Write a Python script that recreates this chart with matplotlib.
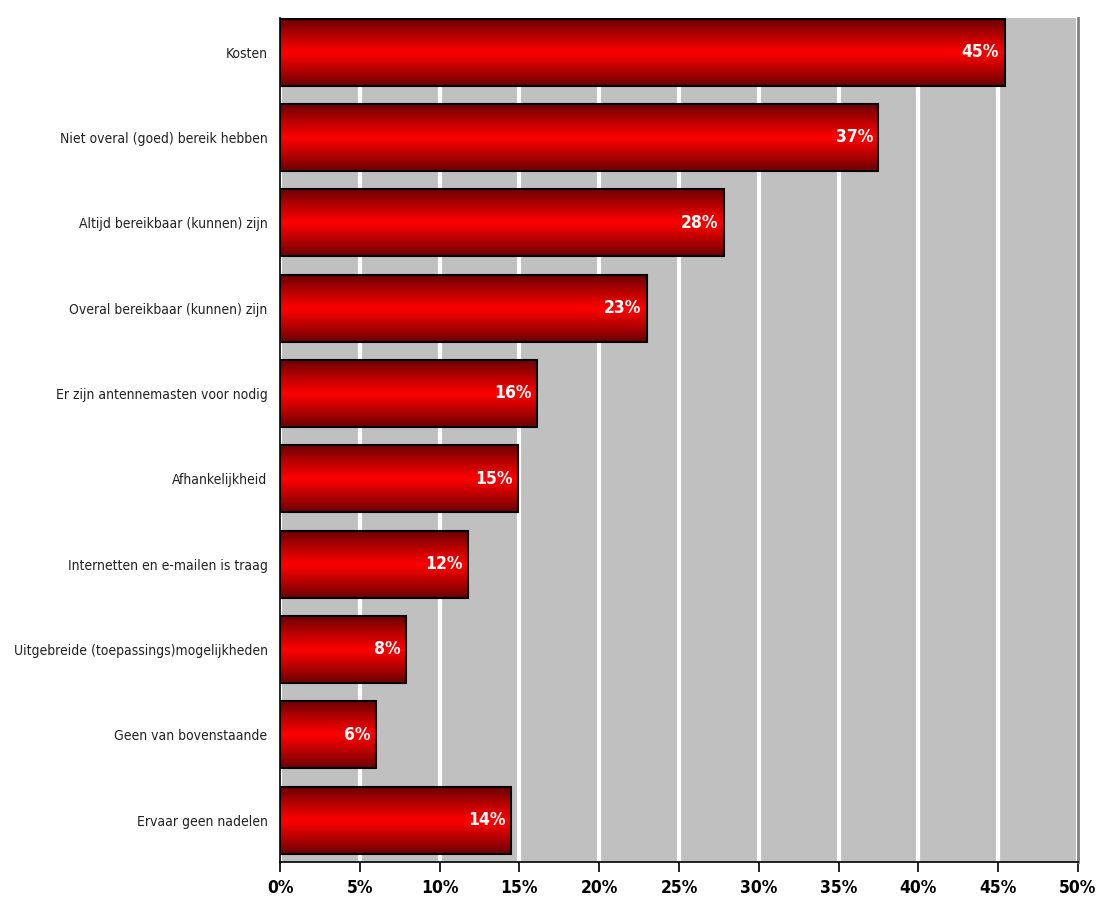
import numpy as np
import matplotlib.pyplot as plt
from matplotlib.colors import LinearSegmentedColormap
from matplotlib.ticker import MultipleLocator, FuncFormatter

plt.rcParams['font.family'] = ['DejaVu Sans']
plt.rcParams['font.stretch'] = 'condensed'

categories = [
    'Kosten',
    'Niet overal (goed) bereik hebben',
    'Altijd bereikbaar (kunnen) zijn',
    'Overal bereikbaar (kunnen) zijn',
    'Er zijn antennemasten voor nodig',
    'Afhankelijkheid',
    'Internetten en e-mailen is traag',
    'Uitgebreide (toepassings)mogelijkheden',
    'Geen van bovenstaande',
    'Ervaar geen nadelen',
]
values = [45.4, 37.5, 27.8, 23.0, 16.1, 14.9, 11.8, 7.9, 6.0, 14.5]
labels = ['45%', '37%', '28%', '23%', '16%', '15%', '12%', '8%', '6%', '14%']

fig = plt.figure(figsize=(11.03, 9.06), dpi=100)
ax = fig.add_axes([0.2539, 0.0486, 0.7234, 0.9315])
ax.set_facecolor('#C0C0C0')

n = len(categories)
ypos = np.arange(n)[::-1]
h = 0.785

# gradient: dark at top/bottom edge, bright red in the middle
cmap = LinearSegmentedColormap.from_list('redbar', ['#6A0000', '#B80000', '#FF0000', '#B80000', '#6A0000'])
grad = np.linspace(0, 1, 256).reshape(-1, 1)

bars = ax.barh(ypos, values, height=h, color='none', edgecolor='black', linewidth=1.5, zorder=3)
for b, v, lab in zip(bars, values, labels):
    x0, y0 = b.get_x(), b.get_y()
    im = ax.imshow(grad, cmap=cmap, aspect='auto', extent=(x0, x0 + b.get_width(), y0, y0 + b.get_height()),
                   origin='lower', zorder=2)
    im.set_clip_path(b)
    ax.text(v - 0.35, b.get_y() + b.get_height() / 2, lab, ha='right', va='center',
            color='white', fontsize=12.5, fontweight='bold', zorder=4)

ax.set_xlim(0, 50)
ax.set_ylim(-0.49, n - 1 + 0.4)
ax.xaxis.set_major_locator(MultipleLocator(5))
ax.xaxis.set_major_formatter(FuncFormatter(lambda x, p: f'{x:.0f}%'))
ax.grid(axis='x', color='white', linewidth=3, zorder=1)
ax.set_axisbelow(True)

ax.set_yticks(ypos)
ax.set_yticklabels(categories, fontsize=10, color='#222222')
ax.tick_params(axis='y', length=0, pad=9)
ax.tick_params(axis='x', direction='out', length=7, width=1.2, pad=5, labelsize=12.5)
for t in ax.get_xticklabels():
    t.set_fontweight('bold')

ax.spines['top'].set_visible(False)
ax.spines['right'].set_color('#808080')
ax.spines['right'].set_linewidth(2)
ax.spines['left'].set_linewidth(1.2)
ax.spines['bottom'].set_linewidth(1.2)

fig.savefig('out.png', dpi=100)
